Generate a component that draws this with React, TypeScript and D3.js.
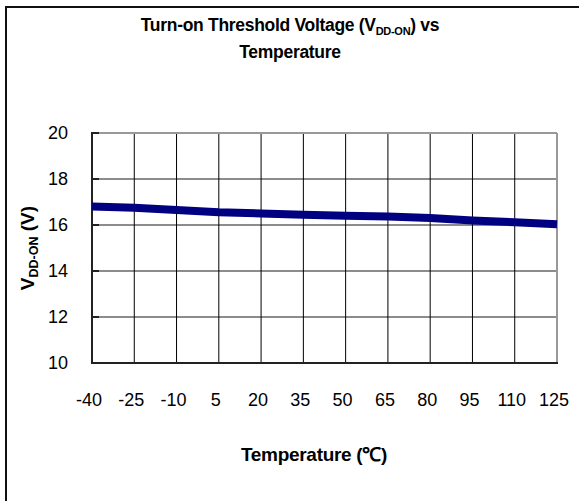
import React, { useEffect, useRef } from "react";
import * as d3 from "d3";

const temps = [-40, -25, -10, 5, 20, 35, 50, 65, 80, 95, 110, 125];
const vddOn = [16.8, 16.75, 16.65, 16.55, 16.5, 16.45, 16.4, 16.37, 16.3, 16.2, 16.12, 16.03];
const yTicks = [10, 12, 14, 16, 18, 20];

const W = 579;
const H = 501;
const FONT = "'Liberation Sans', Arial, sans-serif";

export default function App() {
  const ref = useRef<SVGSVGElement>(null);

  useEffect(() => {
    const svg = d3.select(ref.current);
    svg.selectAll("*").remove();

    const margin = { top: 133, right: 22, bottom: 138, left: 92 };
    const x = d3.scaleLinear().domain([-40, 125]).range([margin.left, W - margin.right]);
    const y = d3.scaleLinear().domain([10, 20]).range([H - margin.bottom, margin.top]);

    svg.append("rect").attr("width", W).attr("height", H).attr("fill", "#fff");

    // outer frame (only top and left visible)
    svg.append("line").attr("x1", 5).attr("x2", W).attr("y1", 7).attr("y2", 7)
      .attr("stroke", "#111").attr("stroke-width", 2);
    svg.append("line").attr("x1", 6).attr("x2", 6).attr("y1", 6).attr("y2", H)
      .attr("stroke", "#111").attr("stroke-width", 2);

    // grid
    svg.append("g").selectAll("line").data(yTicks.slice(1, -1)).enter().append("line")
      .attr("x1", x(-40)).attr("x2", x(125))
      .attr("y1", (d) => y(d)).attr("y2", (d) => y(d))
      .attr("stroke", "#666").attr("stroke-width", 1.5);
    svg.append("g").selectAll("line").data(temps.slice(1, -1)).enter().append("line")
      .attr("x1", (d) => x(d)).attr("x2", (d) => x(d))
      .attr("y1", y(20)).attr("y2", y(10))
      .attr("stroke", "#000").attr("stroke-width", 1);

    // plot frame
    svg.append("line").attr("x1", x(-40)).attr("x2", x(125)).attr("y1", y(20)).attr("y2", y(20))
      .attr("stroke", "#999").attr("stroke-width", 2);
    svg.append("line").attr("x1", x(125)).attr("x2", x(125)).attr("y1", y(20)).attr("y2", y(10))
      .attr("stroke", "#999").attr("stroke-width", 2);
    svg.append("line").attr("x1", x(-40)).attr("x2", x(-40)).attr("y1", y(20) - 1).attr("y2", y(10) + 1)
      .attr("stroke", "#222").attr("stroke-width", 2);
    svg.append("line").attr("x1", x(-40) - 1).attr("x2", x(125) + 1).attr("y1", y(10)).attr("y2", y(10))
      .attr("stroke", "#222").attr("stroke-width", 2);

    // y tick marks
    svg.append("g").selectAll("line").data(yTicks).enter().append("line")
      .attr("x1", x(-40)).attr("x2", x(-40) + 7)
      .attr("y1", (d) => y(d)).attr("y2", (d) => y(d))
      .attr("stroke", "#222").attr("stroke-width", 2);

    // data line
    const line = d3.line<number>().x((_, i) => x(temps[i])).y((d) => y(d));
    svg.append("path").datum(vddOn).attr("d", line)
      .attr("fill", "none").attr("stroke", "#000080").attr("stroke-width", 8);

    // tick labels
    svg.append("g").selectAll("text").data(yTicks).enter().append("text")
      .attr("x", 68).attr("y", (d) => y(d)).attr("dy", "0.35em")
      .attr("text-anchor", "end").attr("font-size", 18).attr("font-family", FONT)
      .text((d) => d);
    svg.append("g").selectAll("text").data(temps).enter().append("text")
      .attr("x", (d) => x(d) - 3).attr("y", 406)
      .attr("text-anchor", "middle").attr("font-size", 18).attr("font-family", FONT)
      .text((d) => d);

    // titles
    const t1 = svg.append("text").attr("x", 290).attr("y", 31).attr("text-anchor", "middle")
      .attr("font-size", 17.5).attr("font-weight", "bold").attr("font-family", FONT)
      .attr("letter-spacing", -0.3);
    t1.append("tspan").text("Turn-on Threshold Voltage (V");
    t1.append("tspan").attr("font-size", 11).attr("dy", 4).text("DD-ON");
    t1.append("tspan").attr("dy", -4).text(") vs");
    svg.append("text").attr("x", 290).attr("y", 58).attr("text-anchor", "middle")
      .attr("font-size", 17.5).attr("font-weight", "bold").attr("font-family", FONT)
      .attr("letter-spacing", -0.3)
      .text("Temperature");

    svg.append("text").attr("x", 314).attr("y", 461).attr("text-anchor", "middle")
      .attr("font-size", 19).attr("font-weight", "bold").attr("font-family", FONT)
      .attr("letter-spacing", -0.3)
      .text("Temperature (\u2103)");

    const yl = svg.append("text").attr("transform", `translate(34, ${y(15)}) rotate(-90)`)
      .attr("text-anchor", "middle").attr("font-size", 19).attr("font-weight", "bold")
      .attr("font-family", FONT);
    yl.append("tspan").text("V");
    yl.append("tspan").attr("font-size", 12.5).attr("dy", 4).text("DD-ON");
    yl.append("tspan").attr("dy", -4).text(" (V)");
  }, []);

  return (
    <svg ref={ref} width={W} height={H}
      style={{ position: "absolute", left: 0, top: 0, display: "block" }} />
  );
}
